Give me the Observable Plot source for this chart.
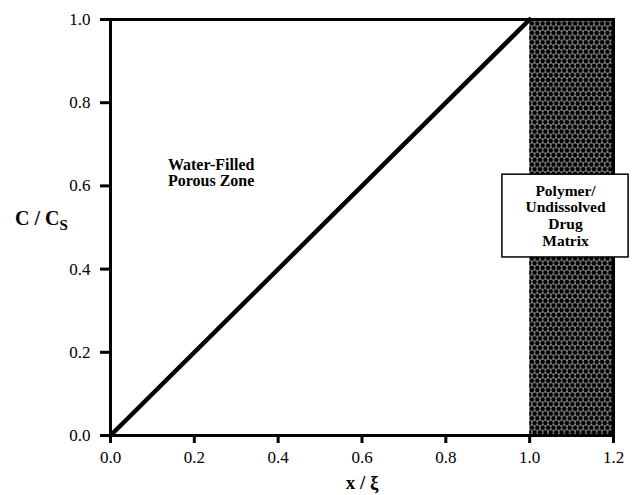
<!DOCTYPE html>
<html><head><meta charset="utf-8">
<script src="https://cdn.jsdelivr.net/npm/d3@7"></script>
<script src="https://cdn.jsdelivr.net/npm/@observablehq/plot@0.6"></script>
<style>body{margin:0;background:#fff}</style>
</head><body><div id="chart"></div>
<script>
const xTicks = [0, 0.2, 0.4, 0.6, 0.8, 1.0, 1.2];
const yTicks = [0, 0.2, 0.4, 0.6, 0.8, 1.0];
const profileX = [0, 1.0];
const profileY = [0, 1.0];
const matrixZone = [{x1: 1.0, x2: 1.2, y1: 0, y2: 1.0}];
const zoneLabel = ["Water-Filled\nPorous Zone"];
const matrixLabel = ["Polymer/\nUndissolved\nDrug\nMatrix"];
const xLabel = ["x / ξ"];

const profile = profileX.map((x, i) => ({x, y: profileY[i]}));
const font = "'Liberation Serif', 'Times New Roman', 'DejaVu Serif', serif";

const chart = Plot.plot({
  width: 633, height: 495,
  marginLeft: 110, marginRight: 20, marginTop: 19, marginBottom: 60,
  style: {fontFamily: font, fontSize: "17px", color: "#000", background: "#fff"},
  x: {domain: [0, 1.2]},
  y: {domain: [0, 1.0]},
  marks: [
    Plot.rect(matrixZone, {x1: "x1", x2: "x2", y1: "y1", y2: "y2", fill: "url(#dots)"}),
    Plot.line(profile, {x: "x", y: "y", stroke: "#000", strokeWidth: 4.5}),
    Plot.frame({stroke: "#000", strokeWidth: 3}),
    Plot.axisX(xTicks, {tickSize: 8, strokeWidth: 3, tickFormat: d3.format(".1f"), tickPadding: 7, fontSize: 17, label: null}),
    Plot.axisY(yTicks, {tickSize: 10, strokeWidth: 3, tickFormat: d3.format(".1f"), tickPadding: 10, fontSize: 17, label: null}),
    Plot.text(xLabel, {frameAnchor: "bottom", dy: 53, fontWeight: "bold", fontSize: 19}),
    Plot.text(zoneLabel, {x: 0.137, y: 0.632, textAnchor: "start", fontWeight: "bold", fontSize: 16, lineHeight: 1.05}),
    Plot.rect([0], {x1: 0.935, x2: 1.236, y1: 0.428, y2: 0.627, fill: "#fff", stroke: "#000", strokeWidth: 1.5}),
    Plot.text(matrixLabel, {x: 1.0855, y: 0.529, fontWeight: "bold", fontSize: 15.5, lineHeight: 1.08})
  ]
});

const svg = d3.select(chart);
svg.selectAll("text").attr("font-family", font);
const defs = svg.insert("defs", ":first-child");
const pat = defs.append("pattern").attr("id", "dots").attr("patternUnits", "userSpaceOnUse")
  .attr("width", 5.4).attr("height", 9.4);
pat.append("rect").attr("width", 5.4).attr("height", 9.4).attr("fill", "#fff");
[[0,0],[5.4,0],[2.7,4.7],[0,9.4],[5.4,9.4]].forEach(([cx, cy]) => {
  pat.append("circle").attr("cx", cx).attr("cy", cy).attr("r", 2.5).attr("fill", "#000");
});

const yl = svg.append("text").attr("x", 15).attr("y", 225).attr("text-anchor", "start")
  .attr("font-family", font).attr("font-weight", "bold").attr("font-size", 20);
yl.append("tspan").text("C / C");
yl.append("tspan").attr("dy", 5).attr("font-size", 15).text("S");

document.getElementById("chart").appendChild(chart);
</script>
</body></html>
